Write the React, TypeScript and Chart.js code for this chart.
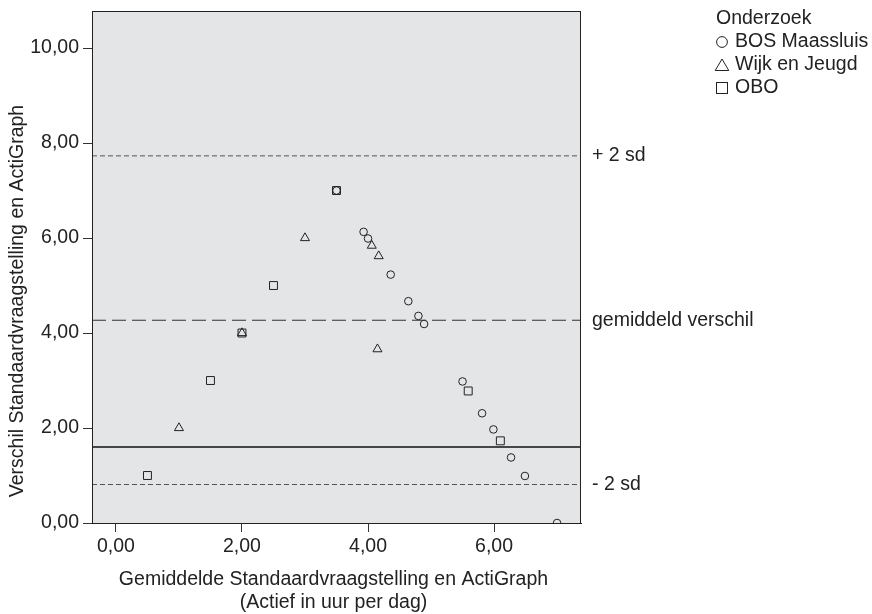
import { useEffect, useRef } from "react";
import { Chart, registerables } from "chart.js";

Chart.register(...registerables);

// ---- Data ----
const bosX = [3.5, 3.93, 4.0, 4.36, 4.64, 4.8, 4.89, 5.5, 5.81, 5.99, 6.27, 6.49, 7.0];
const bosY = [7.0, 6.13, 5.99, 5.23, 4.67, 4.36, 4.19, 2.98, 2.31, 1.97, 1.38, 0.99, 0.0];

const wijkX = [1.0, 2.0, 3.0, 4.06, 4.17, 4.15];
const wijkY = [2.0, 4.0, 6.0, 5.84, 5.62, 3.66];

const oboX = [0.5, 1.5, 2.0, 2.5, 3.5, 5.59, 6.1];
const oboY = [1.0, 3.0, 4.0, 5.0, 7.0, 2.78, 1.73];

const seriesNames = ["BOS Maassluis", "Wijk en Jeugd", "OBO"];
const legendTitle = "Onderzoek";

const plus2sd = 7.73;
const meanDiff = 4.27;
const minus2sd = 0.81;
const solidLine = 1.6;
const refLabels = ["+ 2 sd", "gemiddeld verschil", "- 2 sd"];

const xTicks = [0, 2, 4, 6];
const yTicks = [0, 2, 4, 6, 8, 10];
const xMin = -0.38;
const xMax = 7.38;
const yMin = 0;
const yMax = 10.78;

const xTitle = ["Gemiddelde Standaardvraagstelling en ActiGraph", "(Actief in uur per dag)"];
const yTitle = "Verschil Standaardvraagstelling en ActiGraph";

const FONT = "Liberation Sans, Arial, Helvetica, sans-serif";
const TEXT = "#222";
const FS = 19.5;

const pts = (xs: number[], ys: number[]) => xs.map((x, i) => ({ x, y: ys[i] }));
const hline = (v: number) => [
  { x: xMin, y: v },
  { x: xMax, y: v },
];
const fmt = (v: number) => v.toFixed(2).replace(".", ",");

export default function App() {
  const ref = useRef<HTMLCanvasElement | null>(null);

  useEffect(() => {
    const canvas = ref.current;
    if (!canvas) return;

    const decor = {
      id: "decor",
      beforeDraw(chart: any) {
        const { ctx, chartArea: a } = chart;
        ctx.save();
        ctx.fillStyle = "#e4e5e7";
        ctx.fillRect(a.left, a.top, a.right - a.left, a.bottom - a.top);
        ctx.restore();
      },
      afterDraw(chart: any) {
        const { ctx, chartArea: a } = chart;
        const ys = chart.scales.y;
        ctx.save();
        ctx.strokeStyle = "#222";
        ctx.lineWidth = 1;
        ctx.strokeRect(a.left + 0.5, a.top + 0.5, a.right - a.left - 1, a.bottom - a.top);

        ctx.fillStyle = TEXT;
        ctx.font = `${FS}px ${FONT}`;
        ctx.textBaseline = "middle";
        ctx.textAlign = "left";
        const lx = a.right + 11;
        ctx.fillText(refLabels[0], lx, ys.getPixelForValue(plus2sd));
        ctx.fillText(refLabels[1], lx, ys.getPixelForValue(meanDiff));
        ctx.fillText(refLabels[2], lx, ys.getPixelForValue(minus2sd));

        // axis titles
        ctx.textAlign = "center";
        const cx = (a.left + a.right) / 2 - 3;
        ctx.fillText(xTitle[0], cx, 580);
        ctx.fillText(xTitle[1], cx, 603);
        ctx.save();
        ctx.translate(18, 301);
        ctx.rotate(-Math.PI / 2);
        ctx.fillText(yTitle, 0, 0);
        ctx.restore();

        // legend
        ctx.textAlign = "left";
        ctx.fillText(legendTitle, 716, 19);
        const ly = [42, 65, 88];
        ctx.strokeStyle = "#222";
        ctx.lineWidth = 1;
        const sx = 722;
        // circle
        ctx.beginPath();
        ctx.arc(sx, ly[0], 5.4, 0, Math.PI * 2);
        ctx.stroke();
        // triangle
        ctx.beginPath();
        ctx.moveTo(sx, ly[1] - 6);
        ctx.lineTo(sx + 6.8, ly[1] + 5.5);
        ctx.lineTo(sx - 6.8, ly[1] + 5.5);
        ctx.closePath();
        ctx.stroke();
        // square
        ctx.strokeRect(sx - 5.5, ly[2] - 5.5, 11, 11);
        seriesNames.forEach((n, i) => ctx.fillText(n, 735, ly[i]));
        ctx.restore();
      },
    };

    const marker = {
      backgroundColor: "rgba(0,0,0,0)",
      borderColor: "#222",
      pointBorderWidth: 1,
      showLine: false,
      clip: 0,
    };
    const refLine = (v: number, color: string, dash: number[], width: number) => ({
      data: hline(v),
      showLine: true,
      borderColor: color,
      borderWidth: width,
      borderDash: dash,
      pointRadius: 0,
      pointHoverRadius: 0,
      fill: false,
      clip: 0,
    });

    const chart = new Chart(canvas, {
      type: "scatter",
      data: {
        datasets: [
          refLine(plus2sd, "#555", [5, 3], 1),
          refLine(meanDiff, "#333", [14, 6], 1.1),
          refLine(minus2sd, "#555", [5, 3], 1),
          refLine(solidLine, "#111", [], 1.3),
          { ...marker, label: seriesNames[0], data: pts(bosX, bosY), pointStyle: "circle", pointRadius: 3.8 },
          { ...marker, label: seriesNames[1], data: pts(wijkX, wijkY), pointStyle: "triangle", pointRadius: 5.2 },
          { ...marker, label: seriesNames[2], data: pts(oboX, oboY), pointStyle: "rect", pointRadius: 5.6 },
        ] as any,
      },
      options: {
        animation: false,
        responsive: false,
        events: [],
        layout: { padding: { left: 0, top: 11, right: 291, bottom: 0 } },
        plugins: { legend: { display: false }, tooltip: { enabled: false } },
        scales: {
          x: {
            type: "linear",
            min: xMin,
            max: xMax,
            afterFit(s: any) {
              s.height = 91;
              s.paddingLeft = 0;
              s.paddingRight = 0;
            },
            afterBuildTicks(s: any) {
              s.ticks = xTicks.map((v) => ({ value: v }));
            },
            grid: { drawOnChartArea: false, drawTicks: true, tickLength: 9, color: "#333" },
            border: { display: true, color: "#222" },
            ticks: {
              color: TEXT,
              font: { family: FONT, size: FS },
              padding: 3,
              maxRotation: 0,
              callback: (v: any) => fmt(Number(v)),
            },
          },
          y: {
            type: "linear",
            min: yMin,
            max: yMax,
            afterFit(s: any) {
              s.width = 92;
              s.paddingTop = 0;
              s.paddingBottom = 0;
            },
            afterBuildTicks(s: any) {
              s.ticks = yTicks.map((v) => ({ value: v }));
            },
            grid: { drawOnChartArea: false, drawTicks: true, tickLength: 9, color: "#333" },
            border: { display: true, color: "#222" },
            ticks: {
              color: TEXT,
              font: { family: FONT, size: FS },
              padding: 4,
              callback: (v: any) => fmt(Number(v)),
            },
          },
        },
      },
      plugins: [decor],
    });
    return () => chart.destroy();
  }, []);

  return (
    <div style={{ position: "fixed", left: 0, top: 0, width: 872, height: 614, background: "#fff" }}>
      <canvas ref={ref} width={872} height={614} />
    </div>
  );
}
